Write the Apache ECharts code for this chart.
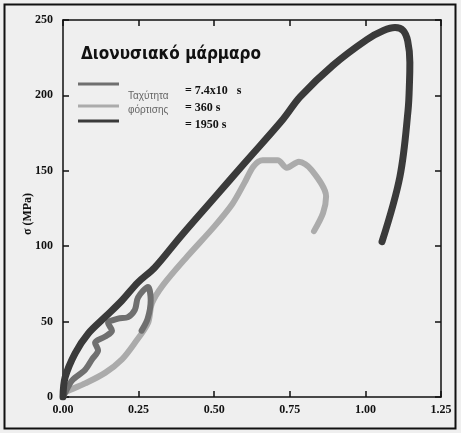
<!DOCTYPE html>
<html>
<head>
<meta charset="utf-8">
<script src="https://cdn.jsdelivr.net/npm/echarts@6/dist/echarts.min.js"></script>
<style>html,body{margin:0;padding:0;background:#efefef;}#c{width:461px;height:433px;}</style>
</head>
<body>
<div id="c"></div>
<script>
// Strain (x) and stress σ (MPa) (y) for each loading rate
const slowX = [0, 0.01, 0.03, 0.073, 0.096, 0.116, 0.106, 0.139, 0.162, 0.149, 0.182, 0.215, 0.238, 0.248, 0.281, 0.29, 0.28, 0.26];
const slowY = [0, 4, 11, 18, 25, 31, 36, 40, 44, 49, 52, 53, 58, 66, 73, 64, 52, 44];
const midX = [0, 0.007, 0.073, 0.139, 0.195, 0.238, 0.281, 0.294, 0.33, 0.41, 0.5, 0.56, 0.6, 0.63, 0.66, 0.71, 0.74, 0.78, 0.82, 0.87, 0.86, 0.83];
const midY = [0, 3, 9, 16, 25, 36, 49, 62, 74, 93, 113, 128, 142, 153, 157, 157, 152, 156, 151, 133, 122, 110];
const fastX = [0, 0.007, 0.04, 0.083, 0.139, 0.195, 0.248, 0.304, 0.387, 0.5, 0.6, 0.727, 0.784, 0.893, 1.005, 1.06, 1.098, 1.125, 1.14, 1.147, 1.146, 1.141, 1.114, 1.055];
const fastY = [0, 13, 29, 42, 53, 64, 76, 86, 106, 132, 155, 184, 199, 220, 237, 243, 245, 243, 236, 222, 210, 190, 146, 103];
const xTicks = [0, 0.25, 0.5, 0.75, 1.0, 1.25];
const yTicks = [0, 50, 100, 150, 200, 250];
const legendTitle = 'Διονυσιακό μάρμαρο';
const legendRate = ['Ταχύτητα', 'φόρτισης'];
const legendValues = ['= 7.4x10   s', '= 360 s', '= 1950 s'];
const yName = 'σ (MPa)';

const zip = (xs, ys) => xs.map((x, i) => [x, ys[i]]);
const C_SLOW = '#6f6f6f', C_MID = '#ababab', C_FAST = '#3a3a3a';
const lblFont = () => ({fontFamily: 'Liberation Serif', fontWeight: 'bold', fontSize: 12, color: '#111'});
const axLine = () => ({show: true, onZero: false, lineStyle: {color: '#111', width: 1.5}});
const axTick = () => ({show: true, inside: true, length: 6, lineStyle: {color: '#111', width: 1.5}});

const chart = echarts.init(document.getElementById('c'), null, {renderer: 'canvas'});
chart.setOption({
  backgroundColor: '#efefef',
  animation: false,
  grid: {left: 63, right: 20, top: 20, bottom: 36},
  xAxis: [
    {type: 'value', position: 'bottom', min: xTicks[0], max: xTicks[xTicks.length - 1], interval: 0.25,
     axisLine: axLine(), axisTick: axTick(), splitLine: {show: false},
     axisLabel: Object.assign({margin: 7, formatter: v => v.toFixed(2)}, lblFont())},
    {type: 'value', position: 'top', min: 0, max: 1.25, interval: 0.25,
     axisLine: axLine(), axisTick: axTick(), splitLine: {show: false}, axisLabel: {show: false}}
  ],
  yAxis: [
    {type: 'value', position: 'left', min: yTicks[0], max: yTicks[yTicks.length - 1], interval: 50,
     axisLine: axLine(), axisTick: axTick(), splitLine: {show: false},
     axisLabel: Object.assign({margin: 10}, lblFont())},
    {type: 'value', position: 'right', min: 0, max: 250, interval: 50,
     axisLine: axLine(), axisTick: axTick(), splitLine: {show: false}, axisLabel: {show: false}}
  ],
  series: [
    {type: 'line', data: zip(midX, midY), showSymbol: false, smooth: 0.3,
     lineStyle: {color: C_MID, width: 6, cap: 'round', join: 'round'}},
    {type: 'line', data: zip(slowX, slowY), showSymbol: false, smooth: 0.3,
     lineStyle: {color: C_SLOW, width: 6, cap: 'round', join: 'round'}},
    {type: 'line', data: zip(fastX, fastY), showSymbol: false, smooth: 0.35,
     lineStyle: {color: C_FAST, width: 7, cap: 'round', join: 'round'}}
  ],
  graphic: [
    {type: 'rect', shape: {x: 4.5, y: 4.5, width: 451, height: 424},
     style: {fill: 'none', stroke: '#111', lineWidth: 2}, silent: true},
    {type: 'text', left: 81, top: 46, style: {text: legendTitle, fontFamily: 'DejaVu Sans Condensed', fontWeight: 'bold', fontSize: 17, fill: '#111'}},
    {type: 'line', shape: {x1: 78, y1: 84, x2: 119, y2: 84}, style: {stroke: C_SLOW, lineWidth: 3}},
    {type: 'line', shape: {x1: 78, y1: 106, x2: 119, y2: 106}, style: {stroke: C_MID, lineWidth: 3}},
    {type: 'line', shape: {x1: 78, y1: 121, x2: 119, y2: 121}, style: {stroke: C_FAST, lineWidth: 3}},
    {type: 'text', left: 128, top: 91, style: {text: legendRate[0], fontFamily: 'Liberation Sans', fontSize: 10, fill: '#666'}},
    {type: 'text', left: 128, top: 105, style: {text: legendRate[1], fontFamily: 'Liberation Sans', fontSize: 10, fill: '#666'}},
    {type: 'text', left: 185, top: 85, style: {text: legendValues[0], fontFamily: 'Liberation Serif', fontWeight: 'bold', fontSize: 12, fill: '#111'}},
    {type: 'text', left: 185, top: 102, style: {text: legendValues[1], fontFamily: 'Liberation Serif', fontWeight: 'bold', fontSize: 12, fill: '#111'}},
    {type: 'text', left: 185, top: 119, style: {text: legendValues[2], fontFamily: 'Liberation Serif', fontWeight: 'bold', fontSize: 12, fill: '#111'}},
    {type: 'text', x: 28, y: 214, rotation: Math.PI / 2,
     style: {text: yName, fontFamily: 'Liberation Serif', fontWeight: 'bold', fontSize: 12, fill: '#111', align: 'center', verticalAlign: 'middle'}}
  ]
});
</script>
</body>
</html>
